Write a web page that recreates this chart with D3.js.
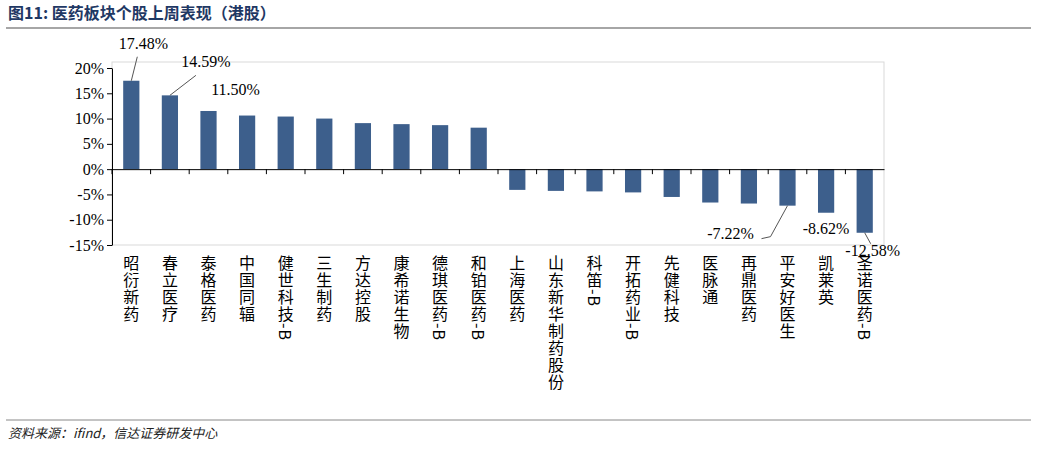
<!DOCTYPE html>
<html><head><meta charset="utf-8">
<script src="https://cdn.jsdelivr.net/npm/d3@7"></script>
<style>body{margin:0;background:#fff}</style></head>
<body><svg id="c" width="1037" height="449"></svg>
<script>
const categories=["昭衍新药","春立医疗","泰格医药","中国同辐","健世科技-B","三生制药","方达控股","康希诺生物","德琪医药-B","和铂医药-B","上海医药","山东新华制药股份","科笛-B","开拓药业-B","先健科技","医脉通","再鼎医药","平安好医生","凯莱英","圣诺医药-B"];
const values=[17.48,14.59,11.50,10.6,10.4,10.0,9.1,8.9,8.7,8.2,-4.1,-4.3,-4.4,-4.6,-5.5,-6.6,-6.8,-7.22,-8.62,-12.58];
const yTicks=[20,15,10,5,0,-5,-10,-15];
const labeled=[{i:0,dx:12,dy:-32,lead:true},{i:1,dx:36,dy:-28,lead:true},{i:2,dx:27,dy:-16,lead:false},
{i:17,dx:-57,dy:33,lead:true},{i:18,dx:0,dy:21,lead:false},{i:19,dx:8,dy:23,lead:true}];
const svg=d3.select("#c");
const serif="'Liberation Serif','Times New Roman',serif", cjk="'Noto Sans CJK SC',sans-serif";
svg.append("text").attr("x",8).attr("y",19).attr("fill","#1f3864").attr("font-weight","bold").attr("font-size",16).attr("font-family",cjk).text("图11: 医药板块个股上周表现（港股）");
svg.append("line").attr("x1",6).attr("x2",1031).attr("y1",28).attr("y2",28).attr("stroke","#888").attr("stroke-width",1.5);
svg.append("line").attr("x1",6).attr("x2",1031).attr("y1",420).attr("y2",420).attr("stroke","#888").attr("stroke-width",1);
svg.append("text").attr("x",8).attr("y",438).attr("font-size",13).attr("font-style","italic").attr("font-family",cjk).attr("fill","#222").text("资料来源：ifind，信达证券研发中心");
const x=d3.scaleBand().domain(categories).range([112,884]).paddingInner(0.58).paddingOuter(0.29);
const y=d3.scaleLinear().domain([-15,20]).range([245,68]);
svg.append("rect").attr("x",112).attr("y",62).attr("width",772).attr("height",183).attr("fill","none").attr("stroke","#d9d9d9");
svg.selectAll(".b").data(values).join("rect").attr("x",(d,i)=>x(categories[i])).attr("width",x.bandwidth())
 .attr("y",d=>y(Math.max(0,d))).attr("height",d=>Math.abs(y(d)-y(0))).attr("fill","#3d5f8c");
const ya=svg.append("g").attr("transform","translate(112,0)").call(d3.axisLeft(y).tickValues(yTicks).tickFormat(d=>d+"%").tickSize(5).tickSizeOuter(0));
ya.selectAll("text").attr("font-family",serif).attr("font-size",16).attr("fill","#000");
ya.select(".domain").attr("stroke","#000");
const xa=svg.append("g").attr("transform",`translate(0,${y(0)})`).call(d3.axisBottom(x).tickSize(5).tickSizeOuter(0).tickFormat(""));
xa.select(".domain").attr("stroke","#000");
xa.selectAll(".tick").attr("transform",(d,i)=>`translate(${x(d)-x.step()*x.paddingInner()/2},0)`);
svg.selectAll(".cl").data(categories).join("text").attr("x",d=>x(d)+x.bandwidth()/2).attr("y",255)
 .attr("font-family",cjk).attr("font-size",16).attr("fill","#000")
 .style("writing-mode","vertical-rl").style("letter-spacing","1px").text(d=>d);
labeled.forEach(l=>{
 const cx=x(categories[l.i])+x.bandwidth()/2, v=values[l.i], ey=y(v);
 const tx=cx+l.dx, ty=ey+l.dy;
 svg.append("text").attr("x",tx).attr("y",ty).attr("text-anchor","middle").attr("font-family",serif).attr("font-size",16).attr("fill","#000").text(v.toFixed(2)+"%");
 if(l.lead){
  let pts;
  if(l.i===17) pts=[[cx,ey],[cx-17,ey+31],[cx-26,ey+33]];
  else if(v>0) pts=[[cx,ey],[tx+(l.i===0?-6:-10),ty+8]];
  else pts=[[cx,ey],[cx+6,ey+11]];
  svg.append("path").attr("d",d3.line()(pts)).attr("fill","none").attr("stroke","#555");
 }
});
</script></body></html>
